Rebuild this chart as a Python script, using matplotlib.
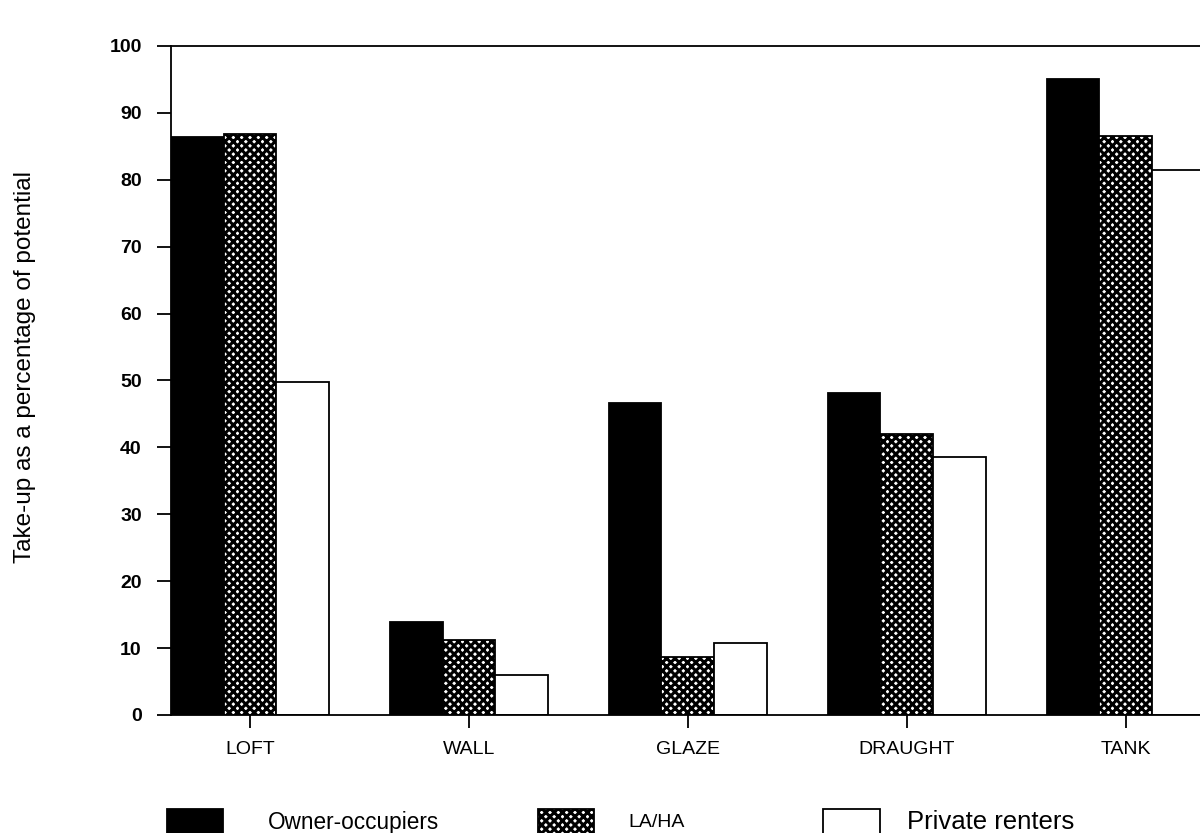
import matplotlib.pyplot as plt
from matplotlib.patches import Rectangle
import numpy as np

plt.rcParams['font.family'] = ['Liberation Sans', 'DejaVu Sans']
plt.rcParams['hatch.linewidth'] = 2.2

# Данные
categories = ['LOFT', 'WALL', 'GLAZE', 'DRAUGHT', 'TANK']
series_names = ['Owner-occupiers', 'LA/HA', 'Private renters']
owner = [86.4, 13.9, 46.7, 48.2, 95.0]
laha = [86.8, 11.2, 8.7, 42.0, 86.5]
private = [49.8, 6.0, 10.7, 38.5, 81.5]

x = np.arange(len(categories))
w = 0.24

fig = plt.figure(figsize=(12, 8.33), dpi=100)
ax = fig.add_axes([0.1425, 0.1417, 0.905, 0.8031])

styles = [
    dict(facecolor='black', edgecolor='black'),
    dict(facecolor='white', edgecolor='black', hatch='xxxx'),
    dict(facecolor='white', edgecolor='black'),
]
for i, vals in enumerate([owner, laha, private]):
    ax.bar(x + (i - 1) * w, vals, w, linewidth=1.3, **styles[i])

ax.set_xlim(-1.5 * w, 4.6)
ax.set_ylim(0, 100)
ax.set_yticks(range(0, 101, 10))
ax.set_xticks(x)
ax.set_xticklabels(categories, fontsize=14)
ax.tick_params(axis='y', length=10, width=1.3, labelsize=14, pad=11)
ax.tick_params(axis='x', length=9, width=1.3, pad=10)
for lab in ax.get_yticklabels():
    lab.set_fontweight('bold')
for s in ['left', 'top', 'bottom']:
    ax.spines[s].set_linewidth(1.3)
ax.spines['right'].set_visible(False)

fig.text(0.021, 0.559, 'Take-up as a percentage of potential', rotation=90,
         ha='center', va='center', fontsize=17.5)

# Легенда вручную
leg_x = [0.139, 0.448, 0.686]
txt_x = [0.223, 0.524, 0.756]
txt_size = [16.3, 14, 18.5]
for i in range(3):
    fig.patches.append(Rectangle((leg_x[i], -0.005), 0.047, 0.034,
                                 transform=fig.transFigure, linewidth=1.3,
                                 **styles[i]))
    fig.text(txt_x[i], 0.013, series_names[i], fontsize=txt_size[i],
             ha='left', va='center')

plt.savefig('out.png', dpi=100)
